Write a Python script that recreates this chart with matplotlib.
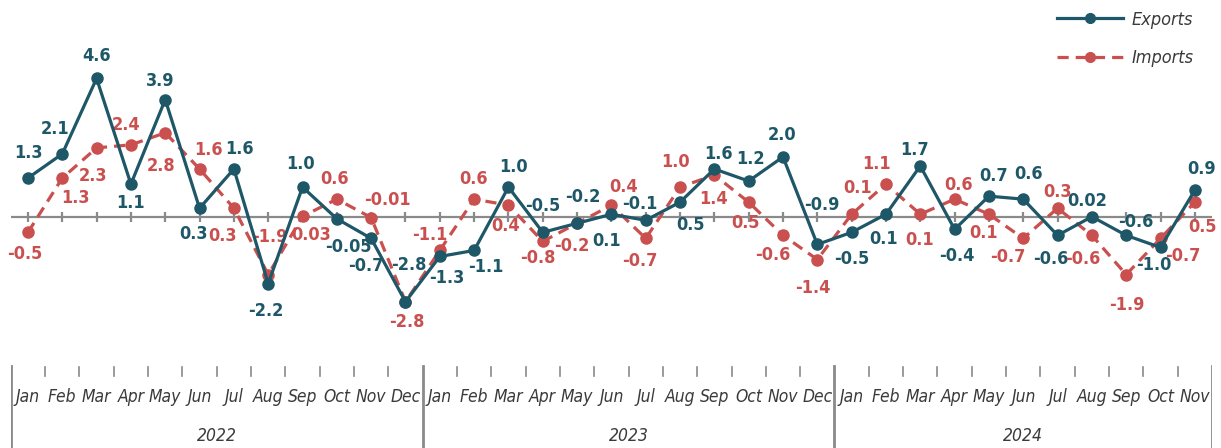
import matplotlib

matplotlib.use("Agg")
import matplotlib.pyplot as plt
import numpy as np
from matplotlib import font_manager

# monthly change, Jan 2022 .. Nov 2024
months = ["Jan", "Feb", "Mar", "Apr", "May", "Jun", "Jul", "Aug", "Sep", "Oct", "Nov", "Dec"]
years = ["2022", "2023", "2024"]
months_per_year = [12, 12, 11]

exports = [1.3, 2.1, 4.6, 1.1, 3.9, 0.3, 1.6, -2.2, 1.0, -0.05, -0.7, -2.8,
           -1.3, -1.1, 1.0, -0.5, -0.2, 0.1, -0.1, 0.5, 1.6, 1.2, 2.0, -0.9,
           -0.5, 0.1, 1.7, -0.4, 0.7, 0.6, -0.6, 0.02, -0.6, -1.0, 0.9]
imports = [-0.5, 1.3, 2.3, 2.4, 2.8, 1.6, 0.3, -1.9, 0.03, 0.6, -0.01, -2.8,
           -1.1, 0.6, 0.4, -0.8, -0.2, 0.4, -0.7, 1.0, 1.4, 0.5, -0.6, -1.4,
           0.1, 1.1, 0.1, 0.6, 0.1, -0.7, 0.3, -0.6, -1.9, -0.7, 0.5]

# label offsets in pixels (dx, dy), chosen to copy the original placement
export_offsets = [(0, 25), (-7, 25), (0, 22), (0, -19), (-5, 19), (-6, -26),
                  (6, 20), (-2, -27), (-2, 23), (12, -28), (-5, -28), (3, 37),
                  (7, -22), (12, -17), (5, 20), (0, 26), (6, 26), (-5, -27),
                  (-6, 16), (10, -23), (4, 15), (2, 22), (-1, 22), (4, 39),
                  (0, -27), (-2, -25), (-6, 16), (2, -27), (5, 20), (5, 25),
                  (-7, -24), (-5, 16), (10, 13), (-7, -18), (7, 21)]
import_offsets = [(-3, -22), (13, -20), (-4, -28), (-5, 20), (-4, -33), (9, 19),
                  (-11, -28), (2, 38), (9, -19), (-2, 20), (16, 18), (1, -20),
                  (-10, 15), (-1, 20), (-3, -21), (-5, -17), (-5, -23), (12, 18),
                  (-6, -23), (-5, 25), (-1, -24), (-3, -21), (-10, -20), (-5, -28),
                  (6, 26), (-9, 20), (-1, -26), (4, 14), (-5, -19), (-15, -19),
                  (0, 16), (-9, -24), (1, -30), (22, -18), (8, -25)]

TEAL = "#1e5767"
RED = "#c9504f"
GRAY = "#8a8a8a"
TEXT = "#3a3a3a"

installed = {f.name for f in font_manager.fontManager.ttflist}
if "Liberation Sans Narrow" in installed:
    FONT = {"family": "Liberation Sans Narrow"}
else:
    FONT = {"family": "DejaVu Sans", "stretch": "condensed"}


def fmt(v):
    if abs(v * 10 - round(v * 10)) > 1e-9:
        return f"{v:.2f}"
    return f"{v:.1f}"


W, H = 1221, 448
fig = plt.figure(figsize=(W / 100, H / 100), dpi=100)
ax = fig.add_axes([10.8 / W, 88 / H, (1212 - 10.8) / W, 360 / H])
ax2 = fig.add_axes([10.8 / W, 0, (1212 - 10.8) / W, 88 / H])

x = np.arange(len(exports))
ax.axhline(0, color=GRAY, lw=1.6, zorder=1)
ax.plot(x, np.zeros(len(x)), ls="none", marker="|", ms=6.5, mew=1.6, color=GRAY, zorder=1)

ax.plot(x, exports, color=TEAL, lw=2.3, marker="o", ms=8, zorder=3, label="Exports")
ax.plot(x, imports, color=RED, lw=2.3, ls=(0, (3.5, 2.2)), marker="o", ms=8, zorder=2,
        label="Imports")

for xi, v, (dx, dy) in zip(x, exports, export_offsets):
    ax.annotate(fmt(v), (xi, v), xytext=(dx, dy), textcoords="offset pixels",
                ha="center", va="center", color=TEAL, fontsize=13, fontweight="bold",
                zorder=1.5, **FONT)
for xi, v, (dx, dy) in zip(x, imports, import_offsets):
    ax.annotate(fmt(v), (xi, v), xytext=(dx, dy), textcoords="offset pixels",
                ha="center", va="center", color=RED, fontsize=13, fontweight="bold",
                zorder=1.5, **FONT)

ax.set_xlim(-0.5, len(x) - 0.5)
ax.set_ylim(-4.73, 7.2)
ax.axis("off")

# category axis: months and years
ax2.set_xlim(-0.5, len(x) - 0.5)
ax2.set_ylim(0, 1)
ax2.axis("off")
start = 0
bounds = [-0.5]
for year, n in zip(years, months_per_year):
    for k in range(n):
        ax2.text(start + k, 0.58, months[k], ha="center", va="center", color=TEXT,
                 fontsize=12.5, style="italic", **FONT)
        if k < n - 1:
            ax2.plot([start + k + 0.5] * 2, [0.82, 0.92], color=GRAY, lw=1.2)
    ax2.text(start + (n - 1) / 2, 0.14, year, ha="center", va="center", color=TEXT,
             fontsize=12.5, style="italic", **FONT)
    start += n
    bounds.append(start - 0.5)
for b in bounds:
    ax2.plot([b, b], [0, 0.93], color=GRAY, lw=2)

leg = fig.legend(loc="upper left", bbox_to_anchor=(1044 / W, 1 + 2 / H), frameon=False,
                 handlelength=3.7, handletextpad=0.45, labelspacing=1.15,
                 prop={"size": 13, "style": "italic", **FONT}, borderpad=0.2)
for t in leg.get_texts():
    t.set_color(TEXT)
for h in leg.legend_handles:
    h.set_markersize(7)

fig.savefig("out.png", dpi=100)
